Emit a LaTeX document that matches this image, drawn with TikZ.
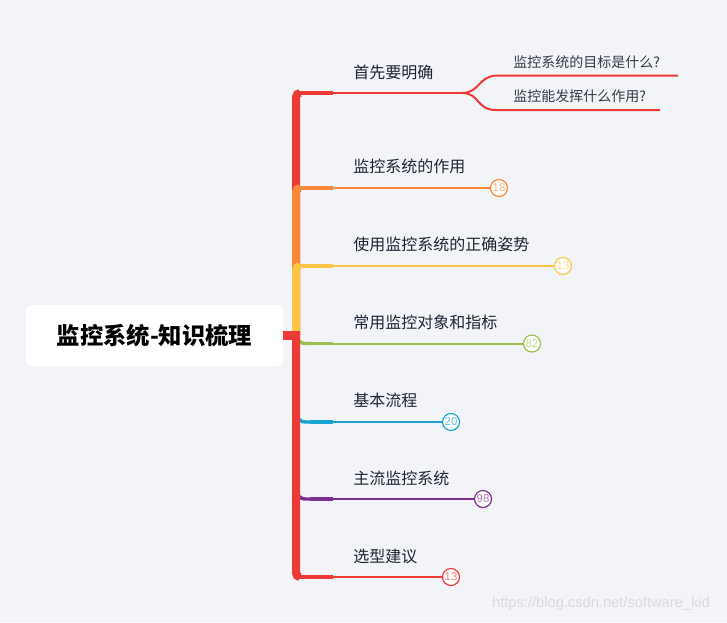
\documentclass[tikz,border=0pt]{standalone}
\usepackage{fontspec}
\setmainfont{Noto Sans CJK SC}
\setsansfont{Liberation Sans}
\definecolor{bg}{HTML}{F3F4F8}
\definecolor{cred}{HTML}{EE3A37}
\definecolor{corange}{HTML}{F7873A}
\definecolor{cyellow}{HTML}{FDC545}
\definecolor{cgreen}{HTML}{9CBF4F}
\definecolor{cblue}{HTML}{1AA5D0}
\definecolor{cpurple}{HTML}{7D2E8F}
\definecolor{txt}{HTML}{1E2433}
\definecolor{wm}{HTML}{D9DADE}
\begin{document}
\begin{tikzpicture}[x=0.75pt,y=-0.75pt,
  rootbox/.style={fill=white,rounded corners=4.5pt,minimum width=192.75pt,minimum height=45.75pt,
    inner sep=0pt,text=black,font=\fontsize{17.5}{20}\selectfont\bfseries},
  lbl/.style={anchor=west,inner sep=0pt,text=txt,font=\fontsize{12}{14}\selectfont},
  sublbl/.style={anchor=west,inner sep=0pt,text=txt!90,font=\fontsize{10.5}{12}\selectfont},
  trunk/.style={draw=#1,line width=6pt,rounded corners=3pt,line cap=butt},
  hook/.style={draw=#1,line width=2.6pt,rounded corners=6pt,line cap=butt},
  thick/.style={draw=#1,line width=2.6pt,line cap=butt},
  thin/.style={draw=#1,line width=1.5pt},
  badge/.style={circle,draw=#1,fill=white,line width=0.9pt,minimum size=12.75pt,inner sep=0pt,
    text=#1!65,font=\sffamily\fontsize{8.5}{9}\selectfont}]
\useasboundingbox[fill=bg] (0,0) rectangle (727,622);

% root
\node[rootbox] (root) at (154.5,335.5) {监控系统-知识梳理};
\coordinate (t) at (296,335);

% labels
\node[lbl] (l1) at (353,72) {首先要明确};
\node[lbl] (l2) at (353,166) {监控系统的作用};
\node[lbl] (l3) at (353,244.5) {使用监控系统的正确姿势};
\node[lbl] (l4) at (353,322) {常用监控对象和指标};
\node[lbl] (l5) at (353,400) {基本流程};
\node[lbl] (l6) at (353,478) {主流监控系统};
\node[lbl] (l7) at (353,556.5) {选型建议};
\node[sublbl] (k1) at (513,62.5) {监控系统的目标是什么?};
\node[sublbl] (k2) at (513,96.5) {监控能发挥什么作用?};

% badges
\node[badge=corange] (c2) at (499,188) {18};
\node[badge=cyellow] (c3) at (563,266) {13};
\node[badge=cgreen] (c4) at (532,343.5) {82};
\node[badge=cblue] (c5) at (451,422) {20};
\node[badge=cpurple] (c6) at (483,499) {98};
\node[badge=cred] (c7) at (451,577) {13};

% hooks (under red trunk)
\draw[hook=cgreen] (297,330) -- (297,343.5) -- (312,343.5);
\draw[hook=cblue] (297,408) -- (297,422) -- (312,422);
\draw[hook=cpurple] (297,485) -- (297,499) -- (312,499);

% upper trunk
\draw[trunk=cred] (t) -- (296,93) -- (300,93);
\draw[trunk=corange] (t) -- (296,188) -- (300,188);
\draw[trunk=cyellow] (t) -- (296,266) -- (300,266);
% lower trunk
\draw[trunk=cred] (296,331) -- (296,577) -- (300,577);
% root stub
\fill[cred] (root.east |- 0,331) rectangle (299,339.5);

% thick stubs
\draw[thick=cred] (299,93) -- (333,93);
\draw[thick=corange] (299,188) -- (333,188);
\draw[thick=cyellow] (299,266) -- (333,266);
\draw[thick=cgreen] (310,343.5) -- (333,343.5);
\draw[thick=cblue] (310,422) -- (333,422);
\draw[thick=cpurple] (310,499) -- (333,499);
\draw[thick=cred] (299,577) -- (333,577);

% thin lines
\draw[thin=cred] (333,93) -- (462,93);
\draw[thin=cred] (462,93) .. controls (480,93) and (478,75.5) .. (498,75.5) -- (678,75.5);
\draw[thin=cred] (462,93) .. controls (480,93) and (476,110) .. (496,110) -- (660,110);
\draw[thin=corange] (333,188) -- (c2);
\draw[thin=cyellow] (333,266) -- (c3);
\draw[thin=cgreen] (333,343.5) -- (c4);
\draw[thin=cblue] (333,422) -- (c5);
\draw[thin=cpurple] (333,499) -- (c6);
\draw[thin=cred] (333,577) -- (c7);

% watermark
\node[text=wm,inner sep=0pt,font=\sffamily\fontsize{11}{12}\selectfont] (wm) at (601,604) {https://blog.csdn.net/software\_kid};
\end{tikzpicture}
\end{document}
